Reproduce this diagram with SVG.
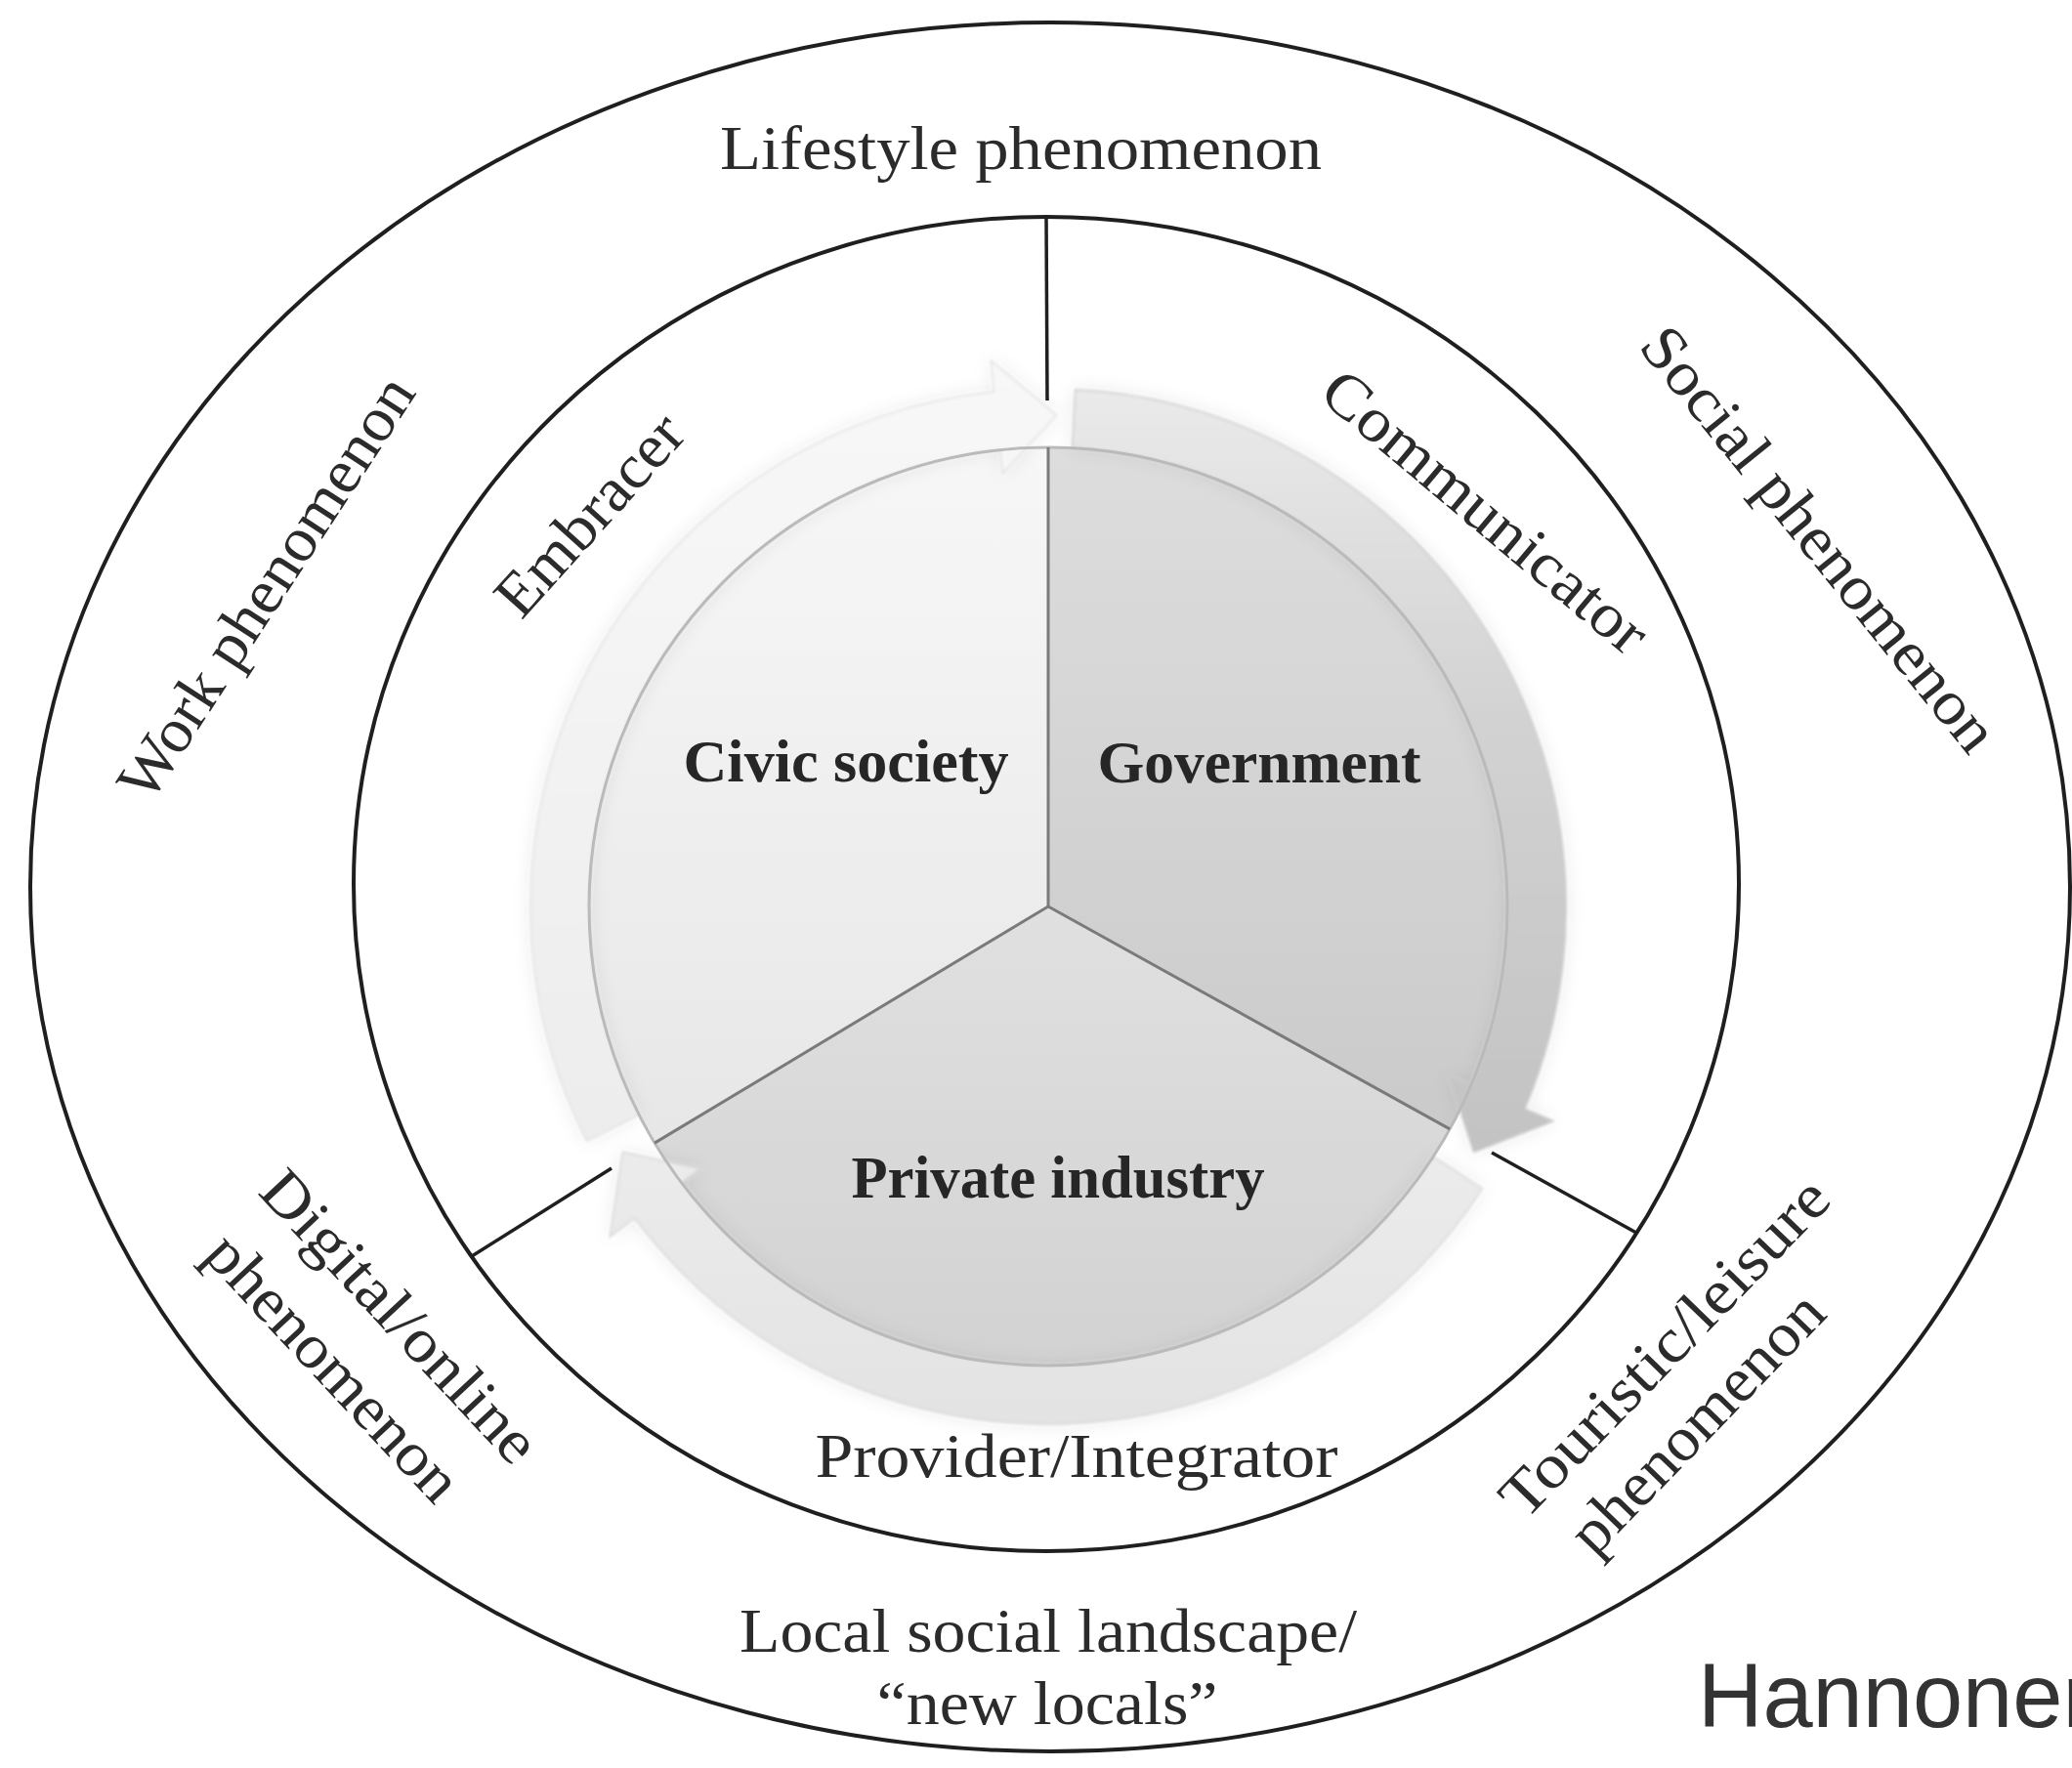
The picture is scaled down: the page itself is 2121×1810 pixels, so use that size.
<svg xmlns="http://www.w3.org/2000/svg" width="2121" height="1810" viewBox="0 0 2121 1810">
<defs>
<style>
.ring{fill:none;stroke:#1f1f1f;stroke-width:4}
.conn{stroke:#1f1f1f;stroke-width:3.5;fill:none}
.div{stroke:#7a7a7a;stroke-width:3;fill:none}
.lbl{font-family:"Liberation Serif","Times New Roman",serif;font-size:64px;fill:#2b2b2b}
.sec{font-family:"Liberation Serif","Times New Roman",serif;font-size:62px;font-weight:bold;fill:#262626}
.src{font-family:"Liberation Sans",Arial,sans-serif;font-size:92px;fill:#333333}
</style>
<linearGradient id="gCivic" gradientUnits="userSpaceOnUse" x1="0" y1="-470" x2="0" y2="470">
<stop offset="0" stop-color="#f7f7f7"/><stop offset="1" stop-color="#e2e2e2"/>
</linearGradient>
<linearGradient id="gGov" gradientUnits="userSpaceOnUse" x1="0" y1="-470" x2="0" y2="470">
<stop offset="0" stop-color="#dddddd"/><stop offset="1" stop-color="#c4c4c4"/>
</linearGradient>
<linearGradient id="gPriv" gradientUnits="userSpaceOnUse" x1="0" y1="-470" x2="0" y2="470">
<stop offset="0" stop-color="#eeeeee"/><stop offset="1" stop-color="#d2d2d2"/>
</linearGradient>
<linearGradient id="aCivic" gradientUnits="userSpaceOnUse" x1="0" y1="-560" x2="0" y2="340">
<stop offset="0" stop-color="#f8f8f8"/><stop offset="1" stop-color="#ebebeb"/>
</linearGradient>
<linearGradient id="aGov" gradientUnits="userSpaceOnUse" x1="0" y1="-560" x2="0" y2="260">
<stop offset="0" stop-color="#ececec"/><stop offset="0.45" stop-color="#d2d2d2"/><stop offset="1" stop-color="#c2c2c2"/>
</linearGradient>
<linearGradient id="aPriv" gradientUnits="userSpaceOnUse" x1="0" y1="170" x2="0" y2="540">
<stop offset="0" stop-color="#eeeeee"/><stop offset="1" stop-color="#e2e2e2"/>
</linearGradient>
<filter id="soft" x="-20%" y="-20%" width="140%" height="140%">
<feGaussianBlur in="SourceAlpha" stdDeviation="9" result="b"/>
<feFlood flood-color="#000" flood-opacity="0.09"/>
<feComposite in2="b" operator="in" result="s"/>
<feGaussianBlur in="SourceGraphic" stdDeviation="1.5" result="g"/>
<feMerge><feMergeNode in="s"/><feMergeNode in="g"/></feMerge>
</filter>
</defs>
<rect width="2121" height="1810" fill="#ffffff"/>

<g id="outer-ring">
<ellipse class="ring" cx="1075" cy="908" rx="1044" ry="885"/>
</g>
<g id="inner-ring">
<ellipse class="ring" cx="1071" cy="905" rx="709" ry="683"/>
</g>

<g id="connectors">
<line class="conn" x1="1071" y1="222" x2="1072" y2="410"/>
<line class="conn" x1="1675" y1="1262" x2="1527" y2="1180"/>
<line class="conn" x1="483" y1="1286" x2="626" y2="1196"/>
</g>

<g id="cycle" transform="translate(1073 928)">
<g id="sector-civic"><path d="M0 0 L-402.9 242.1 A470 470 0 0 1 0 -470 Z" fill="url(#gCivic)"/></g>
<g id="sector-government"><path d="M0 0 L0 -470 A470 470 0 0 1 411.1 227.9 Z" fill="url(#gGov)"/></g>
<g id="sector-private"><path d="M0 0 L411.1 227.9 A470 470 0 0 1 -402.9 242.1 Z" fill="url(#gPriv)"/></g>
<g id="arrows" filter="url(#soft)" stroke-width="1.5">
<path id="arrow-civic" d="M-472.2 240.6 A530 530 0 0 1 -55.4 -527.1 L-58.7 -558.9 L8.8 -502.9 L-46.6 -443.6 L-49.1 -467.4 A470 470 0 0 0 -418.8 213.4 Z" fill="url(#aCivic)" stroke="#e0e0e0"/>
<path id="arrow-government" d="M27.7 -529.3 A530 530 0 0 1 487.9 207.1 L517.3 219.6 L435.6 251.5 L410.5 174.3 L432.6 183.6 A470 470 0 0 0 24.6 -469.4 Z" fill="url(#aGov)" stroke="#cacaca"/>
<path id="arrow-private" d="M444.5 288.6 A530 530 0 0 1 -423.3 319 L-448.8 338.2 L-435.6 251.5 L-356.2 268.4 L-375.3 282.8 A470 470 0 0 0 394.2 256 Z" fill="url(#aPriv)" stroke="#d6d6d6"/>
</g>
<circle cx="0" cy="0" r="470" fill="none" stroke="#bababa" stroke-width="3"/>
<line class="div" x1="0" y1="0" x2="0" y2="-470"/>
<line class="div" x1="0" y1="0" x2="411.1" y2="227.9"/>
<line class="div" x1="0" y1="0" x2="-402.9" y2="242.1"/>
</g>

<g id="label-civic"><text class="sec" x="866" y="800" text-anchor="middle" textLength="333" lengthAdjust="spacingAndGlyphs">Civic society</text></g>
<g id="label-government"><text class="sec" x="1289" y="801" text-anchor="middle" textLength="331" lengthAdjust="spacingAndGlyphs">Government</text></g>
<g id="label-private"><text class="sec" x="1083" y="1226" text-anchor="middle" textLength="423" lengthAdjust="spacingAndGlyphs">Private industry</text></g>

<g id="role-embracer"><text class="lbl" transform="translate(619 541) rotate(-48)" text-anchor="middle" textLength="255" lengthAdjust="spacingAndGlyphs">Embracer</text></g>
<g id="role-communicator"><text class="lbl" transform="translate(1507 540) rotate(40)" text-anchor="middle" textLength="415" lengthAdjust="spacingAndGlyphs">Communicator</text></g>
<g id="role-provider"><text class="lbl" x="1102" y="1512" text-anchor="middle" textLength="535" lengthAdjust="spacingAndGlyphs">Provider/Integrator</text></g>

<g id="phen-lifestyle"><text class="lbl" x="1045" y="173" text-anchor="middle" textLength="616" lengthAdjust="spacingAndGlyphs">Lifestyle phenomenon</text></g>
<g id="phen-social"><text class="lbl" transform="translate(1846 565) rotate(51)" text-anchor="middle" textLength="540" lengthAdjust="spacingAndGlyphs">Social phenomenon</text></g>
<g id="phen-work"><text class="lbl" transform="translate(290 613) rotate(-57)" text-anchor="middle" textLength="503" lengthAdjust="spacingAndGlyphs">Work phenomenon</text></g>
<g id="phen-digital">
<text class="lbl" transform="translate(394 1362) rotate(47)" text-anchor="middle" textLength="385" lengthAdjust="spacingAndGlyphs">Digital/online</text>
<text class="lbl" transform="translate(326 1414) rotate(47)" text-anchor="middle" textLength="350" lengthAdjust="spacingAndGlyphs">phenomenon</text>
</g>
<g id="phen-touristic">
<text class="lbl" transform="translate(1719 1394) rotate(-46)" text-anchor="middle" textLength="455" lengthAdjust="spacingAndGlyphs">Touristic/leisure</text>
<text class="lbl" transform="translate(1752 1471) rotate(-46)" text-anchor="middle" textLength="345" lengthAdjust="spacingAndGlyphs">phenomenon</text>
</g>
<g id="phen-local">
<text class="lbl" x="1073" y="1691" text-anchor="middle" textLength="632" lengthAdjust="spacingAndGlyphs">Local social landscape/</text>
<text class="lbl" x="1072" y="1765" text-anchor="middle" textLength="349" lengthAdjust="spacingAndGlyphs">“new locals”</text>
</g>
<g id="source"><text class="src" x="1738" y="1768">Hannonen</text></g>
</svg>
